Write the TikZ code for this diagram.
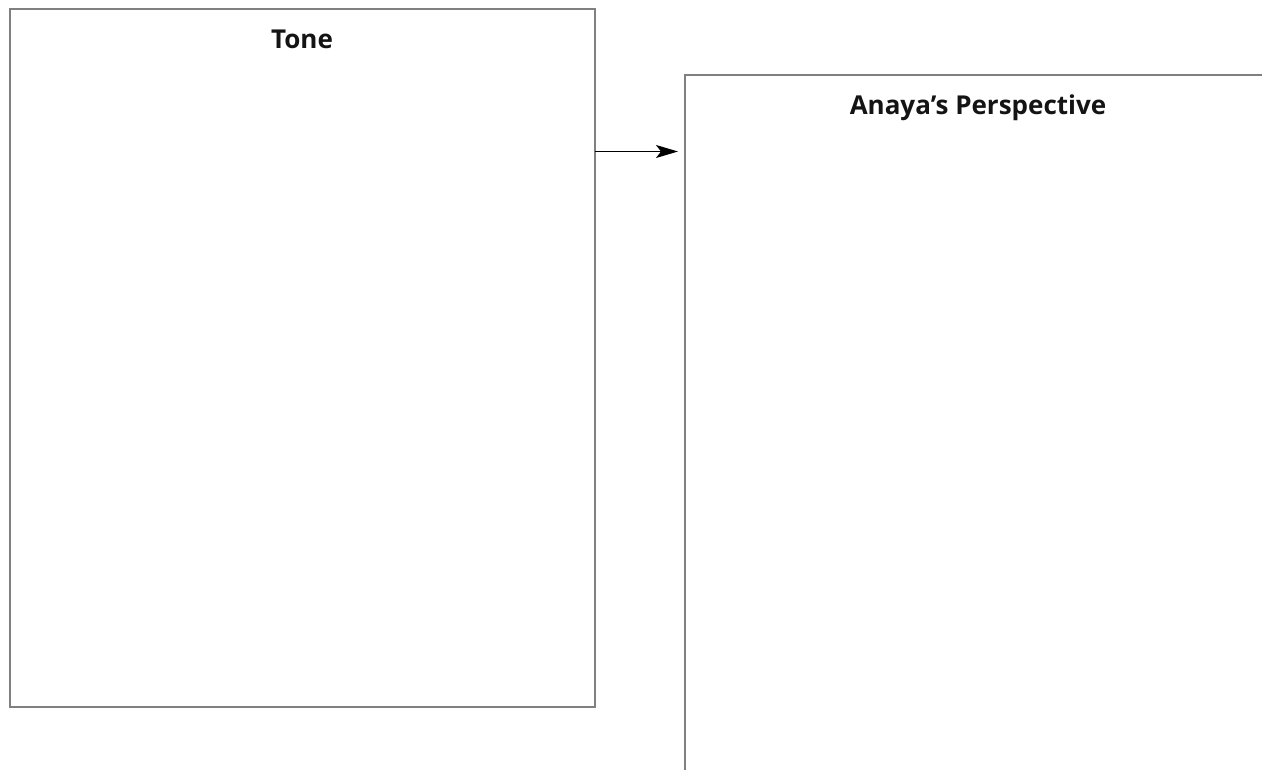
\documentclass[tikz,border=0pt]{standalone}
\usepackage{fontspec}
\setmainfont{Open Sans}
\usetikzlibrary{arrows.meta}
\tikzset{
  panel/.style={draw={rgb,255:red,128;green,128;blue,128}, line width=2pt, rectangle, inner sep=0pt, outer sep=0pt, anchor=north west},
  paneltitle/.style={font=\fontsize{26}{30}\selectfont\bfseries, text={rgb,255:red,20;green,20;blue,20}, inner sep=0pt, anchor=north},
  link/.style={draw=black, line width=1.3pt, -{Stealth[length=22pt,width=13pt,inset=5pt]}}
}
\begin{document}
\begin{tikzpicture}[x=1pt,y=-1pt]
\clip (0,0) rectangle (1262,770);
\fill[white] (0,0) rectangle (1262,770);
\node[panel, minimum width=585pt, minimum height=697pt] (tone) at (9.5,9.5) {};
\node[panel, minimum width=586pt, minimum height=697pt] (persp) at (685,75) {};
\node[paneltitle] (tonetitle) at ([yshift=-20.5pt]tone.north) {Tone};
\node[paneltitle] (persptitle) at ([yshift=-19.5pt]persp.north) {Anaya’s Perspective};
\draw[link] ([yshift=-142pt]tone.north east) -- ([xshift=-7pt,yshift=-76.5pt]persp.north west);
\end{tikzpicture}
\end{document}
